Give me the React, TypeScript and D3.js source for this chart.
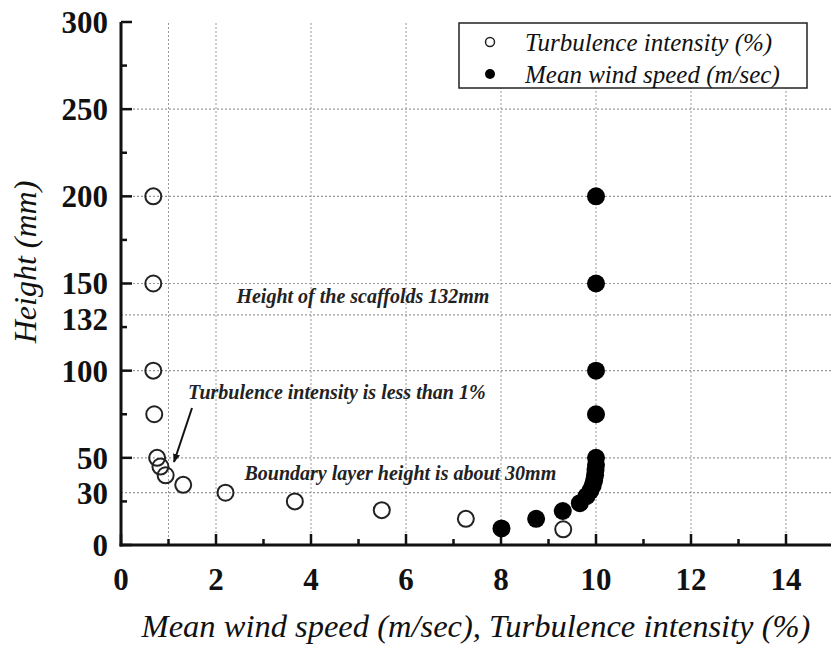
import React from "react";
import * as d3 from "d3";

const turbX = [0.68, 0.68, 0.68, 0.7, 0.76, 0.83, 0.94, 1.31, 2.2, 3.66, 5.49, 7.26, 9.31];
const turbH = [200, 150, 100, 75, 50, 45, 40, 34.5, 30, 25, 20, 15, 9];
const windX = [8.01, 8.74, 9.3, 9.66, 9.8, 9.88, 9.93, 9.96, 9.98, 9.99, 10, 10, 10, 10, 10, 10];
const windH = [9.5, 15, 19.5, 24, 28, 31, 34, 37, 40, 43, 46, 50, 75, 100, 150, 200];
const xTicks = [0, 2, 4, 6, 8, 10, 12, 14];
const xMinor = [1, 3, 5, 7, 9, 11, 13];
const yTickLabels = [0, 30, 50, 100, 132, 150, 200, 250, 300];
const yMajor = [0, 50, 100, 150, 200, 250, 300];
const yMinor = [25, 75, 125, 175, 225, 275];
const xGrid = [1, 2, 4, 6, 8, 10, 12, 14];
const yGrid = [30, 50, 100, 132, 150, 200, 250];
const legendLabels = ["Turbulence intensity (%)", "Mean wind speed (m/sec)"];
const annotations = [
  { text: "Height of the scaffolds 132mm", x: 2.43, h: 139 },
  { text: "Turbulence intensity is less than 1%", x: 1.41, h: 84 },
  { text: "Boundary layer height is about 30mm", x: 2.6, h: 37.5 },
];

const W = 831, H = 645;
const FONT = "'Liberation Serif', 'Times New Roman', serif";

export default function App() {
  const x = d3.scaleLinear().domain([0, 15]).range([121, 833.5]);
  const y = d3.scaleLinear().domain([0, 300]).range([545, 22]);
  const grid = "#999";
  return (
    <svg width={W} height={H} style={{ position: "absolute", left: 0, top: 0, display: "block", background: "#fff" }} fontFamily={FONT}>
      <defs>
        <marker id="ah" viewBox="0 0 10 10" refX="9" refY="5" markerWidth="9" markerHeight="9" orient="auto" markerUnits="userSpaceOnUse">
          <path d="M0,1 L10,5 L0,9 z" fill="#111" />
        </marker>
      </defs>
      {/* grid */}
      {xGrid.map((v) => (
        <line key={"gx" + v} x1={x(v)} x2={x(v)} y1={y(0)} y2={y(300)} stroke={grid} strokeWidth={1} strokeDasharray="2,2" />
      ))}
      {yGrid.map((v) => (
        <line key={"gy" + v} x1={x(0)} x2={W} y1={y(v)} y2={y(v)} stroke={grid} strokeWidth={1.2} strokeDasharray="2,2" />
      ))}
      {/* axes */}
      <line x1={x(0)} x2={x(0)} y1={y(300)} y2={y(0) + 1.5} stroke="#111" strokeWidth={3} />
      <line x1={x(0) - 1.5} x2={W} y1={y(0)} y2={y(0)} stroke="#111" strokeWidth={3} />
      {yMajor.map((v) => (
        <line key={"ym" + v} x1={x(0)} x2={x(0) + 11} y1={y(v)} y2={y(v)} stroke="#111" strokeWidth={2.5} />
      ))}
      {yMinor.map((v) => (
        <line key={"yn" + v} x1={x(0)} x2={x(0) + 6} y1={y(v)} y2={y(v)} stroke="#111" strokeWidth={2.5} />
      ))}
      {xTicks.map((v) => (
        <line key={"xm" + v} x1={x(v)} x2={x(v)} y1={y(0)} y2={y(0) - 11} stroke="#111" strokeWidth={2.5} />
      ))}
      {xMinor.map((v) => (
        <line key={"xn" + v} x1={x(v)} x2={x(v)} y1={y(0)} y2={y(0) - 6} stroke="#111" strokeWidth={2.5} />
      ))}
      {yTickLabels.map((v) => (
        <text key={"yl" + v} x={108} y={y(v) + (v === 132 ? 4 : 0)} dy="0.35em" textAnchor="end" fontSize={31} fontWeight="bold" fill="#111">{v}</text>
      ))}
      {xTicks.map((v) => (
        <text key={"xl" + v} x={x(v)} y={590} textAnchor="middle" fontSize={31} fontWeight="bold" fill="#111">{v}</text>
      ))}
      {/* axis titles */}
      <text x={476} y={637} textAnchor="middle" fontSize={32.5} fontStyle="italic" fill="#111">Mean wind speed (m/sec), Turbulence intensity (%)</text>
      <text transform="translate(36,262) rotate(-90)" textAnchor="middle" fontSize={32} fontStyle="italic" fill="#111">Height (mm)</text>
      {/* annotations */}
      {annotations.map((a) => (
        <text key={a.text} x={x(a.x)} y={y(a.h)} fontSize={20} fontStyle="italic" fontWeight="bold" fill="#222">{a.text}</text>
      ))}
      <line x1={192} y1={408} x2={174} y2={462} stroke="#111" strokeWidth={2} markerEnd="url(#ah)" />
      {/* data */}
      {turbX.map((v, i) => (
        <circle key={"t" + i} cx={x(v)} cy={y(turbH[i])} r={8} fill="none" stroke="#222" strokeWidth={2} />
      ))}
      {windX.map((v, i) => (
        <circle key={"w" + i} cx={x(v)} cy={y(windH[i])} r={9} fill="#000" />
      ))}
      {/* legend */}
      <rect x={459} y={23} width={348} height={65} fill="#fff" stroke="#222" strokeWidth={1.5} />
      <circle cx={490} cy={42} r={4.5} fill="#fff" stroke="#222" strokeWidth={1.5} />
      <circle cx={490} cy={74} r={5} fill="#000" />
      {legendLabels.map((t, i) => (
        <text key={t} x={525} y={42 + i * 32} dy="0.35em" fontSize={25} fontStyle="italic" fill="#111">{t}</text>
      ))}
    </svg>
  );
}
